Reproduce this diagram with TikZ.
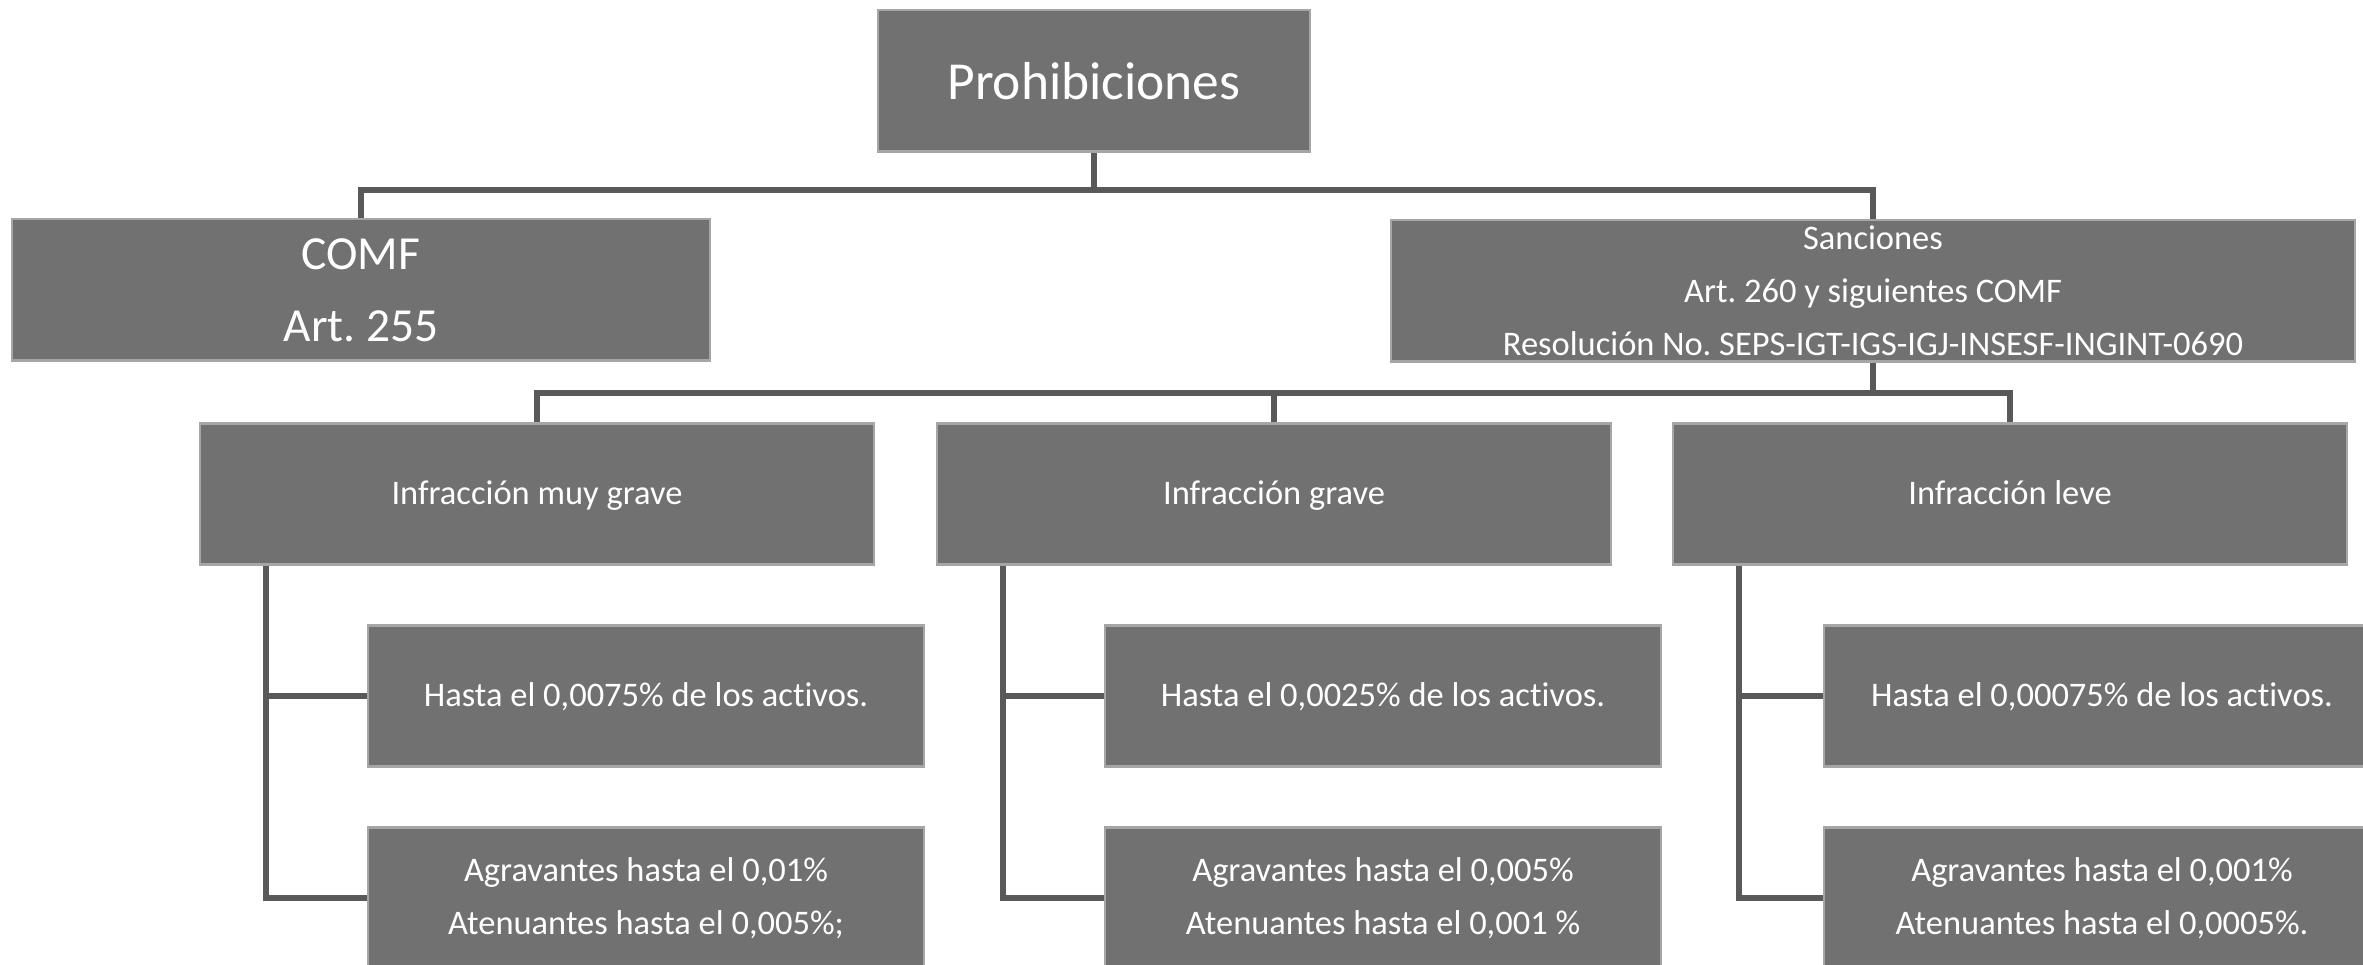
\documentclass[tikz,border=0pt]{standalone}
\usepackage{fontspec}
\setmainfont{Carlito}[Ligatures=NoCommon]
\frenchspacing
\definecolor{boxfill}{HTML}{717171}
\definecolor{boxline}{HTML}{A6A6A6}
\definecolor{connline}{HTML}{595959}
\tikzset{
	box/.style={draw=boxline, line width=0.6pt, fill=boxfill, text=white, align=center, inner sep=0pt, minimum height=1.41cm},
	oneline/.style={execute at begin node=\strut},
	conn/.style={draw=connline, line width=1.6pt},
	small/.style={font=\fontsize{9.8}{15}\selectfont}
}
\begin{document}
\begin{tikzpicture}[x=0.01cm, y=-0.01cm]
	\clip (0,0) rectangle (2363,965);
	%% Ebene 1
	\node[box, minimum width=4.31cm, font=\fontsize{15.2}{20}\selectfont] (prohib) at (1094,81) {Prohibiciones};
	%% Ebene 2
	\node[box, minimum width=6.98cm, font=\fontsize{13.5}{20.5}\selectfont] (comf) at (361,290) {COMF\\Art. 255};
	\node[box, minimum width=9.64cm, small] (sanc) at (1873,291) {Sanciones\\Art. 260 y siguientes COMF\\Resolución No. SEPS-IGT-IGS-IGJ-INSESF-INGINT-0690};
	\coordinate (bus1) at (1094,190);
	\draw[conn] (prohib.south) -- (bus1) -| (comf.north);
	\draw[conn] (bus1) -| (sanc.north);
	%%%%%%%%%%%%%%%%

	%% Ebene 3
	\node[box, oneline, minimum width=6.74cm, small] (muygrave) at (537,494) {Infracción muy grave};
	\node[box, oneline, minimum width=6.74cm, small] (grave) at (1274,494) {Infracción grave};
	\node[box, oneline, minimum width=6.74cm, small] (leve) at (2010,494) {Infracción leve};
	\coordinate (bus2) at (1873,393);
	\draw[conn] (sanc.south) -- (bus2) -| (muygrave.north);
	\draw[conn] (bus2) -| (grave.north);
	\draw[conn] (bus2) -| (leve.north);
	%%%%%%%%%%%%%%%%

	%% Sanciones
	\node[box, oneline, minimum width=5.55cm, small] (muygrave1) at (646,696) {Hasta el 0,0075\% de los activos.};
	\node[box, minimum width=5.55cm, small] (muygrave2) at (646,898) {Agravantes hasta el 0,01\%\\Atenuantes hasta el 0,005\%;};
	\node[box, oneline, minimum width=5.55cm, small] (grave1) at (1383,696) {Hasta el 0,0025\% de los activos.};
	\node[box, minimum width=5.55cm, small] (grave2) at (1383,898) {Agravantes hasta el 0,005\%\\Atenuantes hasta el 0,001 \%};
	\node[box, oneline, minimum width=5.55cm, small] (leve1) at (2102,696) {Hasta el 0,00075\% de los activos.};
	\node[box, minimum width=5.55cm, small] (leve2) at (2102,898) {Agravantes hasta el 0,001\%\\Atenuantes hasta el 0,0005\%.};

	\draw[conn] ([xshift=0.67cm]muygrave.south west) |- (muygrave1.west);
	\draw[conn] ([xshift=0.67cm]muygrave.south west) |- (muygrave2.west);
	\draw[conn] ([xshift=0.67cm]grave.south west) |- (grave1.west);
	\draw[conn] ([xshift=0.67cm]grave.south west) |- (grave2.west);
	\draw[conn] ([xshift=0.67cm]leve.south west) |- (leve1.west);
	\draw[conn] ([xshift=0.67cm]leve.south west) |- (leve2.west);
\end{tikzpicture}
\end{document}
